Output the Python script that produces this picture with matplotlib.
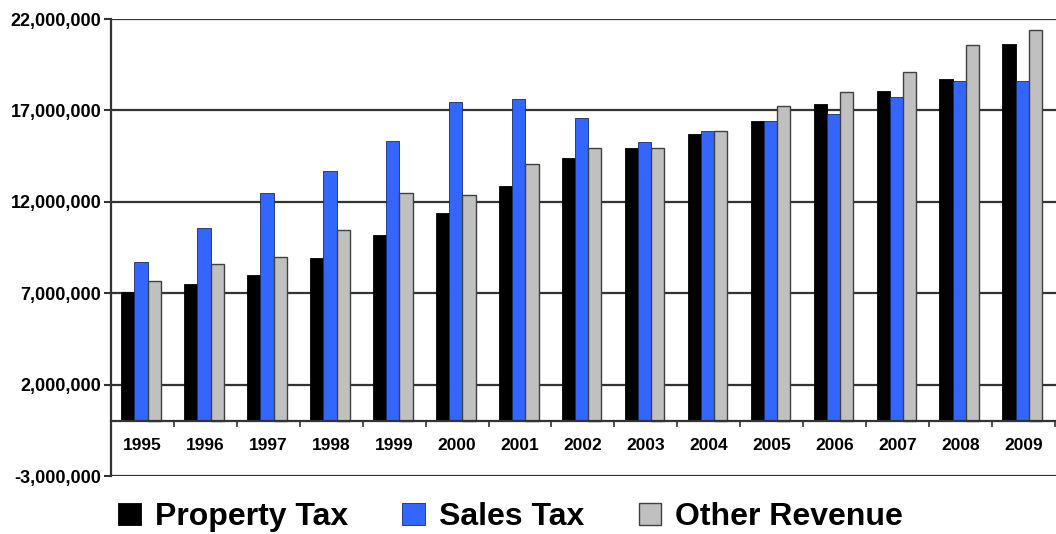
import matplotlib.pyplot as plt
import numpy as np

# revenue by source, 1995-2009
years = ['1995', '1996', '1997', '1998', '1999', '2000', '2001', '2002',
         '2003', '2004', '2005', '2006', '2007', '2008', '2009']
property_tax = [7.09, 7.49, 7.97, 8.95, 10.19, 11.40, 12.86, 14.37,
                14.92, 15.71, 16.42, 17.35, 18.04, 18.71, 20.64]
sales_tax = [8.71, 10.58, 12.46, 13.69, 15.33, 17.46, 17.64, 16.58,
             15.28, 15.88, 16.42, 16.82, 17.71, 18.62, 18.62]
other_revenue = [7.66, 8.62, 9.00, 10.44, 12.46, 12.35, 14.06, 14.92,
                 14.92, 15.88, 17.22, 18.02, 19.08, 20.59, 21.39]

plt.rcParams['font.family'] = ['Liberation Sans', 'DejaVu Sans']
plt.rcParams['font.weight'] = 'bold'

fig = plt.figure(figsize=(10.56, 5.34), dpi=100)
ax = fig.add_axes([0.105, 0.1086, 0.897, 0.8558])

x = np.arange(len(years))
w = 0.21
scale = 1e6
b1 = ax.bar(x - w - 0.02, np.array(property_tax) * scale, w, color='black',
            edgecolor='black', linewidth=0.6, zorder=3, label='Property Tax')
b2 = ax.bar(x - 0.02, np.array(sales_tax) * scale, w, color='#3366ff',
            edgecolor='#1a2a66', linewidth=0.6, zorder=3, label='Sales Tax')
b3 = ax.bar(x + w - 0.02, np.array(other_revenue) * scale, w, color='#c0c0c0',
            edgecolor='#404040', linewidth=1.0, zorder=3, label='Other Revenue')

ax.set_ylim(-3e6, 22e6)
ax.set_xlim(-0.5, len(years) - 0.45)
yt = [-3e6, 2e6, 7e6, 12e6, 17e6, 22e6]
ax.set_yticks(yt)
ax.set_yticklabels([f'{v:,.0f}' for v in yt], fontsize=13, fontweight='bold')
ax.yaxis.grid(True, color='#333333', linewidth=1.6, zorder=1)
ax.tick_params(axis='y', length=5, width=1.5, color='#333333', pad=2)

# x axis sits on zero, year labels under it
ax.spines['bottom'].set_position(('data', 0))
ax.spines['bottom'].set_linewidth(1.6)
ax.spines['bottom'].set_color('#333333')
ax.spines['bottom'].set_zorder(4)
ax.spines['left'].set_linewidth(1.6)
ax.spines['left'].set_color('#333333')
ax.spines['top'].set_visible(False)
ax.spines['right'].set_visible(False)
ax.set_xticks(x)
ax.set_xticklabels(years, fontsize=12.5, fontweight='bold')
ax.set_xticks(np.arange(len(years)) + 0.5, minor=True)
ax.tick_params(axis='x', which='major', length=0, pad=12)
ax.tick_params(axis='x', which='minor', length=4, width=1.2, color='#333333')

fig.legend(handles=[b1, b2, b3], loc='center left', bbox_to_anchor=(0.112, 0.032),
           borderaxespad=0, borderpad=0,
           ncol=3, frameon=False, handlelength=0.7, handleheight=0.7,
           handletextpad=0.45, columnspacing=1.7,
           prop={'weight': 'bold', 'size': 23})

fig.savefig('out.png', dpi=100)
